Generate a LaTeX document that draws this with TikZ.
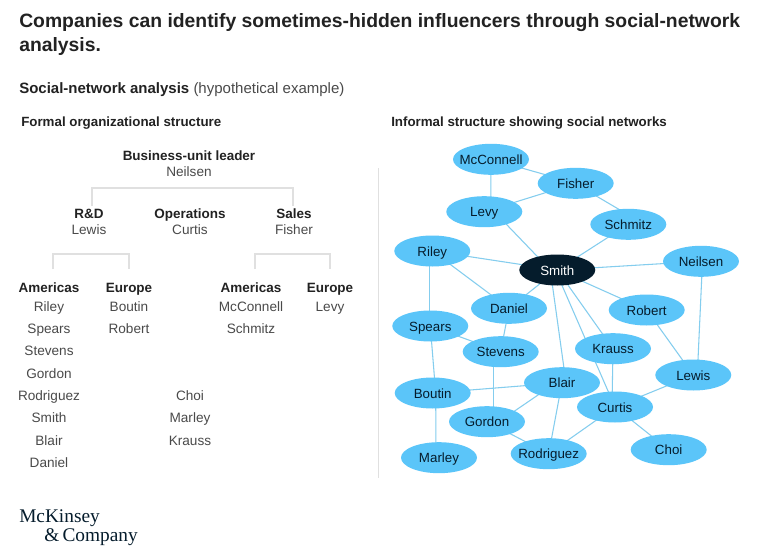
\documentclass[tikz,border=0pt]{standalone}
\usepackage{fontspec}
\setmainfont{Liberation Sans}
\newfontfamily\logofont{Liberation Serif}
\usetikzlibrary{shapes.geometric,calc,backgrounds}
\definecolor{ink}{HTML}{222222}
\definecolor{soft}{HTML}{4A4A4A}
\definecolor{navy}{HTML}{051C2C}
\definecolor{bubble}{HTML}{5BC5F9}
\definecolor{linkblue}{HTML}{84CDEE}
\definecolor{rulegray}{HTML}{E0E0E0}
\tikzset{
  x=0.75pt,y=-0.75pt,
  person/.style={ellipse,fill=bubble,text=navy,minimum width=57pt,minimum height=23.25pt,inner xsep=-8pt,inner ysep=0pt,text height=9.6pt,text depth=2pt,font=\fontsize{10}{12}\selectfont},
  hub/.style={person,fill=navy,text=white},
  link/.style={draw=linkblue,line width=0.8pt},
  bracket/.style={draw=rulegray,line width=0.8pt},
  divider/.style={draw=rulegray,line width=0.6pt},
  headline/.style={anchor=west,inner sep=0pt,text=ink,text height=13.4pt,text depth=3pt,font=\fontsize{14.5}{17}\selectfont\bfseries},
  sectionline/.style={anchor=west,inner sep=0pt,text=ink,text height=11pt,text depth=2.4pt,font=\fontsize{11.25}{13}\selectfont},
  coltitle/.style={anchor=west,inner sep=0pt,text=ink,text height=10.2pt,text depth=2pt,font=\fontsize{10}{11}\selectfont\bfseries},
  roleline/.style={inner sep=0pt,text=ink,text height=10.2pt,text depth=2pt,font=\fontsize{10.1}{12}\selectfont\bfseries},
  nameline/.style={inner sep=0pt,text=soft,text height=10.2pt,text depth=2pt,font=\fontsize{10.2}{12}\selectfont},
  logoline/.style={anchor=west,inner sep=0pt,text=navy,text height=13pt,text depth=3pt,font=\logofont\fontsize{14.5}{16}\selectfont}
}
\begin{document}
\begin{tikzpicture}
\useasboundingbox (0,0) rectangle (769,557);
% headings
\node[headline] (t1) at (19,21) {Companies can identify sometimes-hidden influencers through social-network};
\node[headline] (t2) at (19,45) {analysis.};
\node[sectionline] (sub) at (19,88) {\textbf{Social-network analysis} {\color{soft}(hypothetical example)}};
\node[coltitle] (formal) at (21,121) {Formal organizational structure};
\node[coltitle] (informal) at (391,121) {Informal structure showing social networks};
% formal chart
\node[roleline] (bul) at (189,155) {Business-unit leader};
\node[nameline] (neil) at (189,171) {Neilsen};
\node[roleline] (rd) at (89,213) {R\&D};
\node[nameline] (lewisf) at (89,229) {Lewis};
\node[roleline] (ops) at (190,213) {Operations};
\node[nameline] (curtisf) at (190,229) {Curtis};
\node[roleline] (sales) at (294,213) {Sales};
\node[nameline] (fisherf) at (294,229) {Fisher};
\node[roleline] (am1) at (49,287) {Americas};
\node[roleline] (eu1) at (129,287) {Europe};
\node[roleline] (am2) at (251,287) {Americas};
\node[roleline] (eu2) at (330,287) {Europe};
\foreach \nm/\lab/\yy in {a1/Riley/306,a2/Spears/328,a3/Stevens/350.5,a4/Gordon/373,a5/Rodriguez/395,a6/Smith/417.5,a7/Blair/440,a8/Daniel/462}
  \node[nameline] (\nm) at (49,\yy) {\lab};
\node[nameline] (b1) at (129,306) {Boutin};
\node[nameline] (b2) at (129,328) {Robert};
\node[nameline] (c1) at (251,306) {McConnell};
\node[nameline] (c2) at (251,328) {Schmitz};
\node[nameline] (d1) at (330,306) {Levy};
\node[nameline] (o1) at (190,395) {Choi};
\node[nameline] (o2) at (190,417.5) {Marley};
\node[nameline] (o3) at (190,440) {Krauss};
% brackets
\coordinate (br1a) at (92,206); \coordinate (br1b) at (293,206);
\coordinate (br2a) at (53,269); \coordinate (br2b) at (129,269);
\coordinate (br3a) at (255,269); \coordinate (br3b) at (330,269);
\draw[bracket] (br1a) -- (92,188) -- (293,188) -- (br1b);
\draw[bracket] (br2a) -- (53,254) -- (129,254) -- (br2b);
\draw[bracket] (br3a) -- (255,254) -- (330,254) -- (br3b);
\coordinate (divtop) at (378.5,168); \coordinate (divbot) at (378.5,478);
\draw[divider] (divtop) -- (divbot);
% network
\node[person] (mcconnell) at (491,159.3) {McConnell};
\node[person] (fisher) at (575.7,183.3) {Fisher};
\node[person] (levy) at (484.3,211.7) {Levy};
\node[person] (schmitz) at (628.3,224.3) {Schmitz};
\node[person] (riley) at (432.3,251) {Riley};
\node[hub] (smith) at (557.3,270) {Smith};
\node[person] (neilsen) at (701,261.3) {Neilsen};
\node[person] (daniel) at (509,308.3) {Daniel};
\node[person] (robert) at (646.7,310) {Robert};
\node[person] (spears) at (430.3,326) {Spears};
\node[person] (stevens) at (500.7,351.7) {Stevens};
\node[person] (krauss) at (613,348.7) {Krauss};
\node[person] (blair) at (562,382.7) {Blair};
\node[person] (lewis) at (693.3,375) {Lewis};
\node[person] (boutin) at (432.7,393) {Boutin};
\node[person] (curtis) at (615,407) {Curtis};
\node[person] (gordon) at (487,421.7) {Gordon};
\node[person] (rodriguez) at (548.7,453.7) {Rodriguez};
\node[person] (choi) at (668.7,449.7) {Choi};
\node[person] (marley) at (439,457.7) {Marley};
\begin{scope}[on background layer]
\fill[white] (0,0) rectangle (769,557);
\draw[link] (mcconnell.center) -- (fisher.center);
\draw[link] (mcconnell.center) -- ($(levy)+(6.4,0)$);
\draw[link] (levy.center) -- (fisher.center);
\draw[link] ($(fisher)+(-1,0)$) -- ($(schmitz)+(16,0)$);
\draw[link] ($(levy)+(10,0)$) -- ($(smith)+(-7,0)$);
\draw[link] (schmitz.center) -- (smith.center);
\draw[link] (riley.center) -- (smith.center);
\draw[link] (riley.center) -- (daniel.center);
\draw[link] ($(riley)+(-2.5,0)$) -- ($(spears)+(-0.5,0)$);
\draw[link] (smith.center) -- (neilsen.center);
\draw[link] (smith.center) -- (daniel.center);
\draw[link] (smith.center) -- (robert.center);
\draw[link] ($(smith)+(-7,0)$) -- ($(blair)+(4,0)$);
\draw[link] ($(smith)+(-2,0)$) -- (curtis.center);
\draw[link] (smith.center) -- (krauss.center);
\draw[link] (robert.center) -- (lewis.center);
\draw[link] ($(neilsen)+(1.5,0)$) -- ($(lewis)+(4,0)$);
\draw[link] (lewis.center) -- (curtis.center);
\draw[link] (krauss.center) -- ($(curtis)+(-3,0)$);
\draw[link] (spears.center) -- (stevens.center);
\draw[link] (daniel.center) -- (stevens.center);
\draw[link] (spears.center) -- ($(boutin)+(3,0)$);
\draw[link] ($(stevens)+(-7,0)$) -- ($(gordon)+(6.7,0)$);
\draw[link] (boutin.center) -- (blair.center);
\draw[link] ($(boutin)+(3,0)$) -- ($(marley)+(-3,0)$);
\draw[link] ($(blair)+(-6,0)$) -- ($(gordon)+(12,0)$);
\draw[link] (blair.center) -- (rodriguez.center);
\draw[link] (gordon.center) -- (rodriguez.center);
\draw[link] (rodriguez.center) -- (curtis.center);
\draw[link] (curtis.center) -- (choi.center);
\end{scope}
% logo
\node[logoline] (logo1) at (19,516) {McKinsey};
\node[logoline] (logo2) at (44,535) {\&\,Company};
\end{tikzpicture}
\end{document}
